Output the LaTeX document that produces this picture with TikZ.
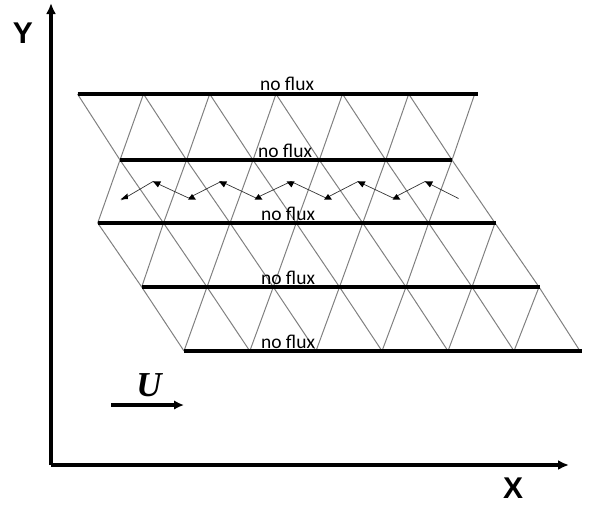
\documentclass[tikz,border=0pt]{standalone}
\usepackage{fontspec}
\setmainfont{Carlito}
\newfontfamily\boldsans{Liberation Sans}
\newfontfamily\timesfont{Liberation Serif}
\usetikzlibrary{arrows.meta}
\tikzset{
  mesh/.style={draw=black!50,line width=1pt},
  wall/.style={draw=black,line width=3.3pt},
  axis/.style={draw=black,line width=3.3pt,-{Latex[length=11pt,width=10pt]}},
  zigline/.style={draw=black!80,line width=0.7pt},
  flux/.style={font=\fontsize{19.5}{21}\selectfont,inner sep=0pt,anchor=center},
  axlab/.style={font=\boldsans\bfseries\fontsize{30}{32}\selectfont,inner sep=0pt},
}
\begin{document}
\begin{tikzpicture}[x=1pt,y=-1pt]
\useasboundingbox (0,0) rectangle (593,504);
% vertices
\foreach \n/\x in {0/77.5,1/143.5,2/209.7,3/276,4/342.5,5/408.7,6/474.7} \coordinate (a\n) at (\x,94);
\foreach \n/\x in {0/120,1/186.5,2/253,3/319.3,4/385.7,5/452} \coordinate (b\n) at (\x,160);
\foreach \n/\x in {0/97.7,1/163.5,2/230,3/296.2,4/362.7,5/428.6,6/495} \coordinate (c\n) at (\x,223);
\foreach \n/\x in {0/141.7,1/207,2/273.3,3/339.5,4/406,5/472,6/539} \coordinate (d\n) at (\x,287);
\foreach \n/\x in {0/184,1/249.8,2/316,3/382,4/448,5/514,6/580} \coordinate (e\n) at (\x,351);
% mesh
\foreach \i [evaluate=\i as \j using int(\i+1)] in {0,...,5} \draw[mesh] (a\i) -- (b\i) (a\j) -- (b\i);
\foreach \i [evaluate=\i as \j using int(\i+1)] in {0,...,5} \draw[mesh] (c\i) -- (b\i) -- (c\j);
\foreach \i in {0,...,6} \draw[mesh] (c\i) -- (d\i);
\foreach \i [evaluate=\i as \j using int(\i+1)] in {0,...,5} \draw[mesh] (c\j) -- (d\i);
\foreach \i in {0,...,6} \draw[mesh] (d\i) -- (e\i);
\foreach \i [evaluate=\i as \j using int(\i+1)] in {0,...,5} \draw[mesh] (d\j) -- (e\i);
% walls
\coordinate (a7) at (478,94);
\coordinate (c7) at (496,223);
\coordinate (d7) at (540,287);
\coordinate (e7) at (582,351);
\draw[wall] (a0) -- (a7);
\draw[wall] (b0) -- (b5);
\draw[wall] (c0) -- (c7);
\draw[wall] (d0) -- (d7);
\draw[wall] (e0) -- (e7);
% labels
\node[flux] (f1) at (287,83.5) {no flux};
\node[flux] (f2) at (285,150.5) {no flux};
\node[flux] (f3) at (288,213.5) {no flux};
\node[flux] (f4) at (288,277.5) {no flux};
\node[flux] (f5) at (288,341.5) {no flux};
% zigzag
\coordinate (z0) at (458.5,198.5);
\coordinate (h5) at (425,181.5);
\coordinate (l5) at (393,198);
\coordinate (h4) at (358,181.5);
\coordinate (l4) at (326,198);
\coordinate (h3) at (291,181.5);
\coordinate (l3) at (256,198);
\coordinate (h2) at (221,181.5);
\coordinate (l2) at (188.5,198);
\coordinate (h1) at (153,181.5);
\coordinate (l1) at (121.5,200);
\foreach \s/\e in {z0/h5,h5/l5,l5/h4,h4/l4,l4/h3,h3/l3,l3/h2,h2/l2,l2/h1,h1/l1}
  \draw[zigline] (\s) -- (\e);
\foreach \px/\py in {396.5/197.5,328/197.5,258.5/197.5,192/197.5}
  \fill[black] (\px,\py-3.5) -- (\px+4,\py+2.2) -- (\px-4,\py+2.2) -- cycle;
\foreach \px/\py in {429.5/184,362/184,291/184,223.5/184,157.5/184}
  \fill[black] (\px-4.5,\py-2.6) -- (\px+3.6,\py-2.6) -- (\px+0.4,\py+3.4) -- cycle;
\fill[black] (120.5,199.5) -- (127.5,193.5) -- (128,199) -- cycle;
% axes
\coordinate (o) at (51,465);
\coordinate (yt) at (51,3);
\coordinate (xt) at (569,465);
\draw[axis] (o) -- (yt);
\draw[axis] (o) -- (xt);
\node[axlab] (ylab) at (23,33.5) {Y};
\node[axlab] (xlab) at (513,488) {X};
% velocity
\coordinate (u0) at (111,405);
\coordinate (u1) at (184,405);
\draw[draw=black,line width=3.3pt,-{Latex[length=10pt,width=9.5pt]}] (u0) -- (u1);
\node[inner sep=0pt,font=\timesfont\bfseries\itshape\fontsize{35}{37}\selectfont] (ulab) at (149,385) {U};
\end{tikzpicture}
\end{document}
